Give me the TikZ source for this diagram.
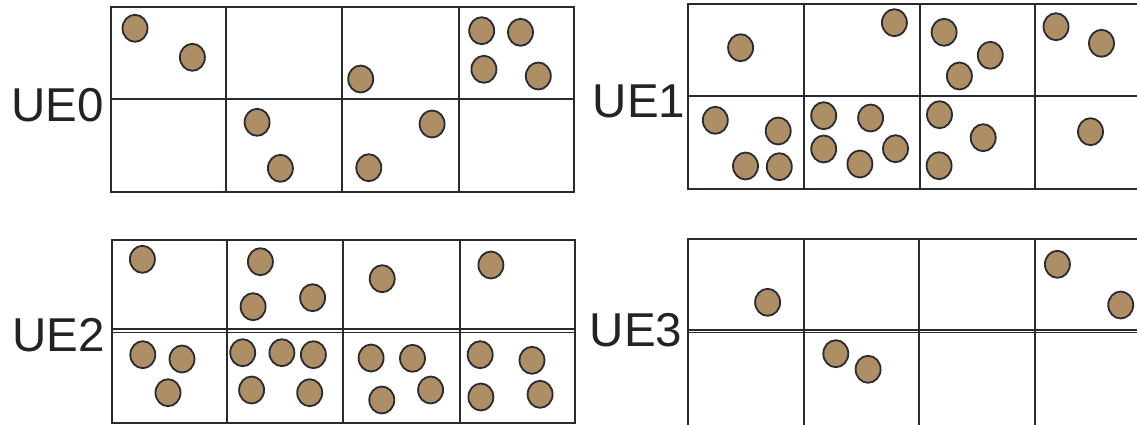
\documentclass[tikz,border=0pt]{standalone}
\usepackage{fontspec}
\setmainfont{Liberation Sans}
\definecolor{gridline}{RGB}{42,42,50}
\definecolor{dotfill}{RGB}{173,142,101}
\definecolor{labeltext}{RGB}{34,34,40}
\tikzset{
  cellline/.style={draw=gridline, line width=2pt},
  dot/.style={draw=gridline, fill=dotfill, line width=1.8pt},
  uelabel/.style={inner sep=0pt, text=labeltext, font=\fontsize{47.5}{50}\selectfont}
}
\newcommand{\placedots}[1]{%
  \foreach \px/\py in {#1} {
    \path[dot] (\px,\py) ellipse [x radius=12.5pt, y radius=13.5pt];
  }}
\begin{document}
\begin{tikzpicture}[x=1pt,y=-1pt]
\useasboundingbox (0,0) rectangle (1137,425);

% ---------- UE0 ----------
\draw[cellline] (110.5,7.5) rectangle (574,191.5);
\draw[cellline] (110.5,99) -- (574,99);
\foreach \vx in {226,342,458.5} \draw[cellline] (\vx,7.5) -- (\vx,191.5);
\node[uelabel] (ue0) at (57.5,105) {UE0};
\placedots{135/28.3, 192.4/57.3, 360.7/79, 481.7/30.7, 520.5/32.3, 483.9/69.3,
      538.3/76, 257.1/122.3, 280.4/168.3, 432.1/124, 368.8/167.7}

% ---------- UE1 ----------
\draw[cellline] (688.3,4) rectangle (1151,189);
\draw[cellline] (688.3,96) -- (1151,96);
\foreach \vx in {804.2,920,1035.4} \draw[cellline] (\vx,4) -- (\vx,189);
\node[uelabel] (ue1) at (639,101.5) {UE1};
\placedots{740.6/47.7, 894.4/22.7, 944.1/32.3, 990.3/55.3, 959.4/76, 1056/26.7,
      1101.5/43.3, 715.3/120.3, 778.2/131, 745.5/166, 779.3/166.7,
      823.7/115.7, 870.6/118, 823.7/149, 859.9/164, 895.5/148.7,
      939.5/114.7, 983.2/137.7, 939.1/165.7, 1090.5/131.7}

% ---------- UE2 ----------
\draw[cellline] (111.7,240) rectangle (574.5,422.5);
\draw[cellline, line width=1.4pt] (111.7,329) -- (574.5,329);
\draw[cellline, line width=1.4pt] (111.7,332.3) -- (574.5,332.3);
\foreach \vx in {227.2,343.3,459.5} \draw[cellline] (\vx,240) -- (\vx,422.5);
\node[uelabel] (ue2) at (58.5,335.5) {UE2};
\placedots{142.4/259.3, 260.4/261.7, 253.1/306.7, 312.6/297.7, 382.2/278.7,
      490.9/265, 142.8/354.7, 182/359, 168/392.7, 242.7/352.7, 281.9/352.7,
      313.4/354.7, 251.6/390, 309.7/392.7, 371.1/358, 412.5/358.3,
      381.8/400, 430.6/390, 480.2/354.7, 532/360.3, 480.9/397, 540.1/394.3}

% ---------- UE3 ----------
\draw[cellline] (688.3,440) -- (688.3,239) -- (1151,239);
\draw[cellline, line width=1.4pt] (688.3,330) -- (1151,330);
\draw[cellline, line width=1.4pt] (688.3,332.6) -- (1151,332.6);
\foreach \vx in {804.2,919.3,1034.7} \draw[cellline] (\vx,239) -- (\vx,440);
\node[uelabel] (ue3) at (636,330.5) {UE3};
\placedots{767.6/302.3, 1057.4/264.3, 1120.7/305, 835.8/353.7, 868.1/369.3}
\end{tikzpicture}
\end{document}
